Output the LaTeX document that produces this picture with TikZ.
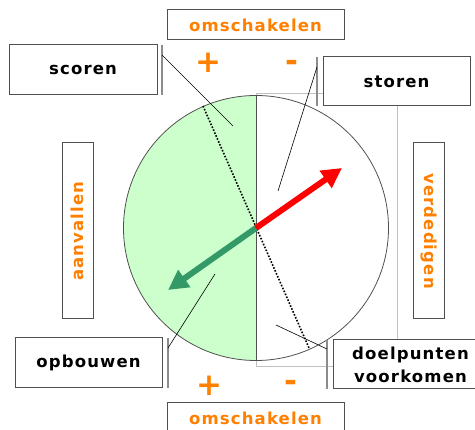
\documentclass[tikz,border=0pt]{standalone}
\usepackage{fontspec}
\setmainfont{DejaVu Sans}
\newfontfamily\lab{DejaVu Sans}[LetterSpace=7]
\usetikzlibrary{arrows.meta}
\definecolor{orng}{HTML}{FF8000}
\definecolor{lgreen}{HTML}{CCFFCC}
\definecolor{dgreen}{HTML}{339966}
\definecolor{bordgray}{HTML}{505050}
\definecolor{bargray}{HTML}{8C8C8C}
\definecolor{rectgray}{HTML}{C0C0C0}
\tikzset{
  labbox/.style={draw=bordgray, line width=1pt, fill=white, inner sep=0pt,
    font=\lab\bfseries\fontsize{16.5}{23}\selectfont, align=center},
  blk/.style={labbox, text=black},
  org/.style={labbox, text=orng},
  sign/.style={inner sep=0pt, text=orng, font=\bfseries\fontsize{31}{31}\selectfont},
  bar/.style={draw=bargray, line width=1.5pt},
  leader/.style={draw=black, line width=0.6pt},
}
\begin{document}
\begin{tikzpicture}[x=1pt,y=-1pt]
\useasboundingbox (0,0) rectangle (475,430);
% circle parts
\coordinate (c) at (256,228);
\fill[lgreen] (256,95.5) arc[start angle=90,end angle=270,radius=132.5pt] -- cycle;
\draw[rectgray, line width=0.8pt] (256,93) rectangle (397,366);
\draw[bordgray, line width=0.8pt] (c) circle[radius=132.5pt];
\draw[bordgray, line width=0.8pt] (256,95.5) -- (256,360.5);
\coordinate (dt) at (203,106);
\coordinate (db) at (309,348);
\draw[black, line width=1.6pt, dash pattern=on 1.6pt off 1.6pt] (dt) -- (db);
% arrows
\coordinate (gtip) at (168,290);
\coordinate (rtip) at (342,168);
\draw[dgreen, line width=6pt, -{Triangle[length=20pt,width=20pt]}] (c) -- (gtip);
\draw[red, line width=6pt, -{Triangle[length=20pt,width=20pt]}] (c) -- (rtip);
% boxes
\node[org, minimum width=177pt, minimum height=30pt] (omstop) at (255.5,25) {omschakelen};
\node[org, minimum width=177pt, minimum height=30pt] (omsbot) at (255.5,418) {omschakelen};
\node[blk, minimum width=148pt, minimum height=50pt] (scoren) at (83,70) {scoren};
\node[blk, minimum width=147pt, minimum height=49pt] (storen) at (396.5,81.5) {storen};
\node[blk, minimum width=147pt, minimum height=50pt] (opbouwen) at (88.5,363) {opbouwen};
\node[blk, minimum width=155pt, minimum height=49pt] (doel) at (410.5,364.5) {doelpunten\\voorkomen};
\node[org, minimum width=31pt, minimum height=176pt] (aanvbox) at (77.5,231) {};
\node[org, draw=none, fill=none, rotate=90] (aanv) at (aanvbox.center) {aanvallen};
\node[org, minimum width=31pt, minimum height=176pt] (verdbox) at (428.5,231) {};
\node[org, draw=none, fill=none, rotate=-90] (verd) at (verdbox.center) {verdedigen};
% signs
\node[sign] (ptop) at (208.5,63) {+};
\node[sign] (mtop) at (291.5,66) {-};
\node[sign] (pbot) at (209,385.5) {+};
\node[sign] (mbot) at (291,386) {-};
% bars next to boxes
\coordinate (b1t) at (162,45); \coordinate (b1b) at (162,95);
\coordinate (b2t) at (317,57); \coordinate (b2b) at (317,106);
\coordinate (b3t) at (168,338); \coordinate (b3b) at (168,388);
\coordinate (b4t) at (327,340); \coordinate (b4b) at (327,389);
\draw[bar] (b1t) -- (b1b);
\draw[bar] (b2t) -- (b2b);
\draw[bar] (b3t) -- (b3b);
\draw[bar] (b4t) -- (b4b);
% leaders
\coordinate (l1a) at (162,55); \coordinate (l1b) at (233,126);
\coordinate (l2a) at (317,67); \coordinate (l2b) at (278,191);
\coordinate (l3a) at (168,348); \coordinate (l3b) at (215,274);
\coordinate (l4a) at (327,349); \coordinate (l4b) at (276,325);
\draw[leader] (l1a) -- (l1b);
\draw[leader] (l2a) -- (l2b);
\draw[leader] (l3a) -- (l3b);
\draw[leader] (l4a) -- (l4b);
\end{tikzpicture}
\end{document}
